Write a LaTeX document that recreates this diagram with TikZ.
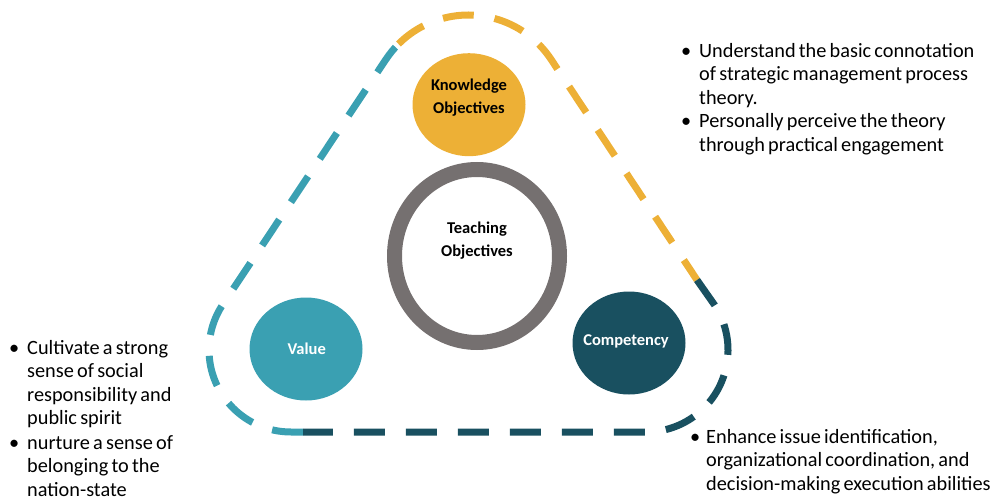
\documentclass[tikz,border=0pt]{standalone}
\usepackage{fontspec}
\setmainfont{Carlito}[WordSpace=0.7]
\usetikzlibrary{shapes.geometric}
\definecolor{cg}{RGB}{237, 176, 54}
\definecolor{ct}{RGB}{58, 160, 178}
\definecolor{cd}{RGB}{25, 80, 96}
\definecolor{cr}{RGB}{117, 112, 112}

\begin{document}
\begin{tikzpicture}[every node/.style={inner sep=0pt},
  blob/.style={ellipse, minimum width=113pt, minimum height=103pt},
  tag/.style={font=\fontsize{16.5}{23}\selectfont\bfseries, align=center},
  bullets/.style={font=\fontsize{20.3}{23.5}\selectfont, anchor=base west},
  rim/.style={line width=7pt, dash pattern=on 31pt off 21pt}]
\useasboundingbox (0pt, 0pt) rectangle (998pt, -500pt);
% centres of the rounded corners of the frame
\coordinate (top) at (468.5pt, -114pt);
\coordinate (bl) at (291pt, -350pt);
\coordinate (br) at (646pt, -350pt);
\draw [rim, color=ct] (303pt, -432pt) -- ([shift={(270:82pt)}]bl) arc[start angle=270, end angle=146.4, radius=82pt] -- ([shift={(146.4:99pt)}]top) arc[start angle=146.4, end angle=135, radius=99pt];
\draw [rim, color=cg] ([shift={(135:99pt)}]top) arc[start angle=135, end angle=33.6, radius=99pt] -- (697pt, -280pt);
\draw [rim, color=cd] (697pt, -280pt) -- ([shift={(33.6:82pt)}]br) arc[start angle=33.6, end angle=-90, radius=82pt] -- (303pt, -432pt);
\node (know) [blob, fill=cg] at (469pt, -104.7pt) {};
\node (value) [blob, fill=ct] at (306pt, -349pt) {};
\node (comp) [blob, fill=cd] at (629pt, -343pt) {};
\node (teach) [ellipse, minimum width=165pt, minimum height=173pt, draw=cr, line width=15pt] at (477pt, -256pt) {};
\node (know text) [tag] at (469pt, -98pt) {Knowledge\\Objectives};
\node (teach text) [tag] at (477pt, -241pt) {Teaching\\Objectives};
\node (value text) [tag, text=white, anchor=base] at (306.7pt, -354pt) {Value};
\node (comp text) [tag, text=white, anchor=base] at (626pt, -345pt) {Competency};
\node (know list) [bullets] at (681pt, -57.3pt) {\begin{tabular}[t]{@{}p{18pt}@{}l@{}}
\textbullet & Understand the basic connotation\\
 & of strategic management process\\
 & theory.\\
\textbullet & Personally perceive the theory\\
 & through practical engagement
\end{tabular}};
\node (value list) [bullets] at (9pt, -354pt) {\begin{tabular}[t]{@{}p{18pt}@{}l@{}}
\textbullet & Cultivate a strong\\
 & sense of social\\
 & responsibility and\\
 & public spirit\\[1pt]
\textbullet & nurture a sense of\\
 & belonging to the\\
 & nation-state\\[-6pt]
\end{tabular}};
\node (comp list) [bullets] at (690pt, -443.3pt) {\begin{tabular}[t]{@{}p{16pt}@{}l@{}}
\textbullet & Enhance issue identification,\\
 & organizational coordination, and\\
 & decision-making execution abilities
\end{tabular}};
\end{tikzpicture}
\end{document}
